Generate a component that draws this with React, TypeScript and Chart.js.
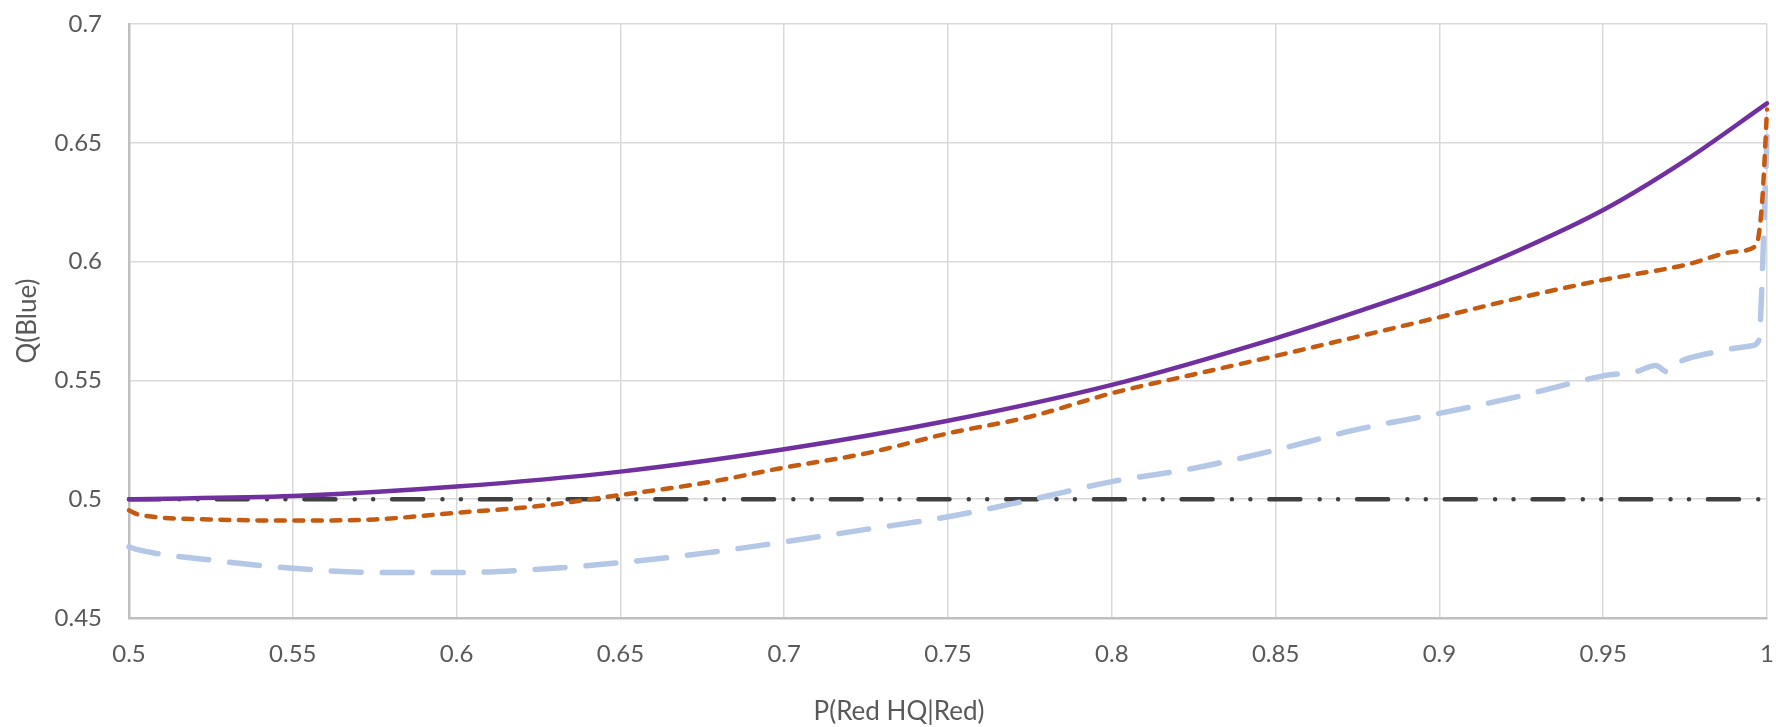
import { useEffect, useRef } from 'react';
import { Chart, registerables } from 'chart.js';

Chart.register(...registerables);

// ---- data ----
const xTickValues = [0.5, 0.55, 0.6, 0.65, 0.7, 0.75, 0.8, 0.85, 0.9, 0.95, 1];
const xTickLabels = ['0.5', '0.55', '0.6', '0.65', '0.7', '0.75', '0.8', '0.85', '0.9', '0.95', '1'];
const yTickValues = [0.45, 0.5, 0.55, 0.6, 0.65, 0.7];
const yTickLabels = ['0.45', '0.5', '0.55', '0.6', '0.65', '0.7'];

const purpleX = [0.5, 0.55, 0.6, 0.65, 0.7, 0.75, 0.8, 0.85, 0.875, 0.9, 0.925, 0.95, 0.975, 1];
const purpleY = [0.5, 0.5013, 0.5053, 0.5116, 0.521, 0.533, 0.5481, 0.5677, 0.5789, 0.5909, 0.6052, 0.6217, 0.6425, 0.6666];

const orangeX = [0.5, 0.503, 0.525, 0.55, 0.575, 0.6, 0.625, 0.65, 0.675, 0.7, 0.725, 0.75, 0.775, 0.8, 0.825, 0.85, 0.875, 0.9, 0.925, 0.95, 0.975, 0.99, 0.9963, 0.9974, 0.9985, 0.9991, 1];
const orangeY = [0.4953, 0.4935, 0.4915, 0.491, 0.4915, 0.4943, 0.4971, 0.5018, 0.5067, 0.5133, 0.5193, 0.5277, 0.5347, 0.5446, 0.5525, 0.5603, 0.5684, 0.5766, 0.5849, 0.5923, 0.5986, 0.6042, 0.6063, 0.6105, 0.6247, 0.6386, 0.664];

const blueX = [0.5, 0.502, 0.525, 0.55, 0.575, 0.6, 0.625, 0.65, 0.675, 0.7, 0.725, 0.75, 0.775, 0.8, 0.825, 0.85, 0.875, 0.9, 0.925, 0.95, 0.96, 0.966, 0.9697, 0.973, 0.98, 0.985, 0.99, 0.995, 0.9975, 0.998, 0.999, 1];
const blueY = [0.48, 0.479, 0.4744, 0.4709, 0.4692, 0.4691, 0.4705, 0.4733, 0.4772, 0.482, 0.4873, 0.4926, 0.4997, 0.5074, 0.513, 0.5207, 0.5294, 0.5361, 0.5435, 0.5519, 0.5537, 0.5563, 0.5535, 0.5575, 0.5607, 0.5621, 0.5635, 0.5645, 0.5668, 0.575, 0.612, 0.653];

const grayX = [0.5, 1];
const grayY = [0.5, 0.5];

const xTitle = 'P(Red HQ|Red)';
const yTitle = 'Q(Blue)';

const toPts = (xs: number[], ys: number[]) => xs.map((x, i) => ({ x, y: ys[i] }));

const FONT = 'Lato, "Open Sans", sans-serif';
const TEXT = '#595959';

const titlePlugin = {
  id: 'axisTitles',
  afterDraw(chart: any) {
    const { ctx, chartArea } = chart;
    ctx.save();
    ctx.fillStyle = TEXT;
    ctx.font = `26px ${FONT}`;
    ctx.textAlign = 'center';
    ctx.textBaseline = 'middle';
    ctx.fillText(xTitle, 899, 712);
    ctx.translate(28, (chartArea.top + chartArea.bottom) / 2);
    ctx.rotate(-Math.PI / 2);
    ctx.fillText(yTitle, 0, 0);
    ctx.restore();
  },
};

const zeroPad = (s: any) => {
  s.paddingLeft = 0;
  s.paddingRight = 0;
  s.paddingTop = 0;
  s.paddingBottom = 0;
};

export default function App() {
  const ref = useRef<HTMLCanvasElement | null>(null);

  useEffect(() => {
    document.body.style.margin = '0';
    const canvas = ref.current;
    if (!canvas) return;
    const common = {
      pointRadius: 0,
      pointHoverRadius: 0,
      fill: false,
      clip: false as any,
      borderCapStyle: 'round' as const,
      borderJoinStyle: 'round' as const,
      cubicInterpolationMode: 'monotone' as const,
    };
    const chart = new Chart(canvas, {
      type: 'line',
      data: {
        datasets: [
          {
            ...common,
            label: 'purple',
            data: toPts(purpleX, purpleY),
            borderColor: '#7030a0',
            borderWidth: 4.5,
            order: 1,
          },
          {
            ...common,
            label: 'orange',
            data: toPts(orangeX, orangeY),
            borderColor: '#c55a11',
            borderWidth: 4.5,
            borderDash: [9, 9.5],
            order: 2,
          },
          {
            ...common,
            label: 'blue',
            data: toPts(blueX, blueY),
            borderColor: '#b4c7e7',
            borderWidth: 5.5,
            borderDash: [30, 21],
            order: 3,
          },
          {
            ...common,
            label: 'gray',
            data: toPts(grayX, grayY),
            borderColor: '#404040',
            borderWidth: 4.5,
            borderDash: [31, 19.3, 0.01, 18.4, 0.01, 19],
            order: 4,
          },
        ],
      },
      options: {
        animation: false,
        responsive: true,
        maintainAspectRatio: false,
        layout: { padding: { top: 24, right: 9, left: 0, bottom: 0 } },
        plugins: { legend: { display: false }, tooltip: { enabled: false }, title: { display: false } },
        scales: {
          x: {
            type: 'linear',
            min: 0.5,
            max: 1,
            afterBuildTicks: (s: any) => {
              s.ticks = xTickValues.map((v) => ({ value: v }));
            },
            afterFit: (s: any) => {
              s.height = 109;
              zeroPad(s);
            },
            ticks: {
              autoSkip: false,
              maxRotation: 0,
              padding: 22,
              color: TEXT,
              font: { family: FONT, size: 24 },
              callback: (_v: any, i: number) => xTickLabels[i],
            },
            grid: { color: '#d9d9d9', lineWidth: 1.5, drawTicks: false },
            border: { display: true, color: '#bfbfbf', width: 2.5 },
          },
          y: {
            type: 'linear',
            min: 0.45,
            max: 0.7,
            afterBuildTicks: (s: any) => {
              s.ticks = yTickValues.map((v) => ({ value: v }));
            },
            afterFit: (s: any) => {
              s.width = 129;
              zeroPad(s);
            },
            ticks: {
              autoSkip: false,
              padding: 27,
              color: TEXT,
              font: { family: FONT, size: 24 },
              callback: (_v: any, i: number) => yTickLabels[i],
            },
            grid: { color: '#d9d9d9', lineWidth: 1.5, drawTicks: false },
            border: { display: true, color: '#bfbfbf', width: 2.5 },
          },
        },
      },
      plugins: [titlePlugin],
    });
    return () => chart.destroy();
  }, []);

  return (
    <div style={{ width: '1776px', height: '727px', position: 'relative' }}>
      <canvas ref={ref} />
    </div>
  );
}
